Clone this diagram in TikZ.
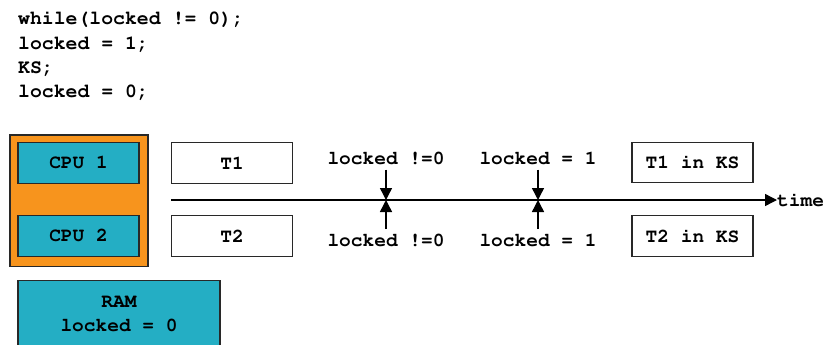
\documentclass[tikz,border=0pt]{standalone}
\usepackage[T1]{fontenc}
\usepackage{courier}
\renewcommand{\familydefault}{\ttdefault}
\usetikzlibrary{arrows.meta}
\definecolor{orangebg}{RGB}{247,148,29}
\definecolor{tealbox}{RGB}{36,174,196}
\definecolor{edge}{RGB}{40,40,40}
\begin{document}
\begin{tikzpicture}[x=1pt,y=-1pt,
  every node/.style={font=\fontsize{19.5}{24}\selectfont\ttfamily\bfseries},
  box/.style={draw=edge,line width=1.4pt,minimum width=121pt,minimum height=40.5pt,inner sep=0pt},
  tealb/.style={box,fill=tealbox},
  whiteb/.style={box,fill=white},
  codeline/.style={anchor=base west,inner sep=0pt,font=\fontsize{19.8}{24}\selectfont\ttfamily\bfseries},
  lbl/.style={anchor=base,inner sep=5pt},
  tip/.style={-{Triangle[length=12pt,width=12pt]},line width=1.4pt}
]
\useasboundingbox (0,0) rectangle (825,345);
\clip (0,0) rectangle (825,345);
% code
\node[codeline] (c1) at (18,25) {while(locked != 0);};
\node[codeline] (c2) at (18,49.5) {locked = 1;};
\node[codeline] (c3) at (18,73.5) {KS;};
\node[codeline] (c4) at (18,98) {locked = 0;};
% computer
\node[draw=edge,line width=1.4pt,fill=orangebg,minimum width=138pt,minimum height=131.5pt,inner sep=0pt] (cpus) at (79,200.7) {};
\node[tealb] (cpu1) at (78.5,163) {CPU 1};
\node[tealb] (cpu2) at (78.5,236) {CPU 2};
\node[draw=edge,line width=1.4pt,fill=tealbox,minimum width=202pt,minimum height=90pt,inner sep=0pt,anchor=north] (ram) at (119,280) {};
\node[align=center,inner sep=0pt,anchor=base] (ramtext) at (119,331.5) {RAM\\locked = 0};
% threads
\node[whiteb] (t1) at (232,163) {T1};
\node[whiteb] (t2) at (232,236) {T2};
\node[whiteb] (t1ks) at (692.5,162.5) {T1 in KS};
\node[whiteb] (t2ks) at (692.5,236) {T2 in KS};
% timeline
\coordinate (tl) at (171,200);
\node[anchor=west,inner sep=0pt] (time) at (777,200) {time};
\draw[tip] (tl) -- (time.west);
\coordinate (x1) at (386,200);
\coordinate (x2) at (538,200);
\node[lbl] (a1) at (386,164) {locked !=0};
\node[lbl] (b1) at (386,246.7) {locked !=0};
\node[lbl] (a2) at (538,164) {locked = 1};
\node[lbl] (b2) at (538,246.7) {locked = 1};
\draw[tip] (a1.south) -- (x1);
\draw[tip] (b1.north) -- (x1);
\draw[tip] (a2.south) -- (x2);
\draw[tip] (b2.north) -- (x2);
\end{tikzpicture}
\end{document}
